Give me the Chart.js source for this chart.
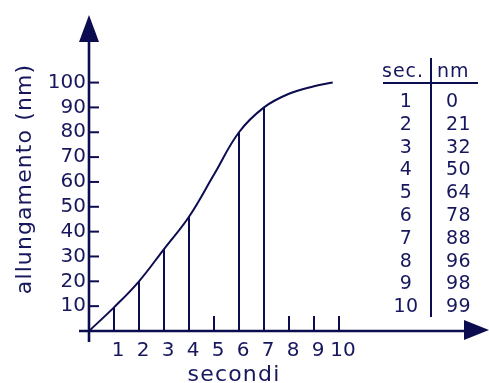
<!DOCTYPE html>
<html>
<head>
<meta charset="utf-8">
<script src="https://cdn.jsdelivr.net/npm/chart.js@4.4.1/dist/chart.umd.min.js"></script>
<style>
  html, body { margin: 0; padding: 0; background: #fff; }
  #wrap { width: 489px; height: 383px; position: relative; }
</style>
</head>
<body>
<div id="wrap"><canvas id="myChart"></canvas></div>
<script>
// curve (seconds -> nm)
var secondi = [0, 1, 2, 3, 4, 5, 6, 7, 8, 9, 9.75];
var allungamento = [0, 9.5, 20, 33, 46, 63, 80, 90, 95.5, 98.5, 100];

var xTicks = [1, 2, 3, 4, 5, 6, 7, 8, 9, 10];
var yTicks = [10, 20, 30, 40, 50, 60, 70, 80, 90, 100];

// where vertical drop lines / short ticks stand on the x axis
var dropAt = [1, 2, 3, 4, 6, 7];
var shortTickAt = [5, 8, 9, 10];

// table on the right
var tableSec = [1, 2, 3, 4, 5, 6, 7, 8, 9, 10];
var tableNm = [0, 21, 32, 50, 64, 78, 88, 96, 98, 99];

var navy = '#0c0c50';
var ink = '#17175d';
var face = '"DejaVu Sans", sans-serif';

function curveAt(v) {
  return allungamento[secondi.indexOf(v)];
}

function line(ctx, x1, y1, x2, y2) {
  ctx.beginPath();
  ctx.moveTo(x1, y1);
  ctx.lineTo(x2, y2);
  ctx.stroke();
}

// axes with arrows, drop lines, titles and the little table
var diagram = {
  id: 'diagram',
  beforeDatasetsDraw: function (chart) {
    var ctx = chart.ctx;
    var xs = chart.scales.x, ys = chart.scales.y;
    var area = chart.chartArea;
    var x0 = xs.getPixelForValue(0), y0 = ys.getPixelForValue(0);

    ctx.save();
    ctx.strokeStyle = navy;
    ctx.fillStyle = navy;

    ctx.lineWidth = 2;
    dropAt.forEach(function (v) {
      var px = xs.getPixelForValue(v);
      line(ctx, px, y0, px, ys.getPixelForValue(curveAt(v)));
    });
    shortTickAt.forEach(function (v) {
      var px = xs.getPixelForValue(v);
      line(ctx, px, y0, px, ys.getPixelForValue(6));
    });
    yTicks.forEach(function (v) {
      var py = ys.getPixelForValue(v);
      line(ctx, x0, py, x0 + 10, py);
    });

    // axes
    ctx.lineWidth = 2.6;
    line(ctx, x0, y0 + 11, x0, area.top + 20);
    line(ctx, x0 - 10, y0, area.right - 20, y0);

    ctx.beginPath();
    ctx.moveTo(x0, area.top);
    ctx.lineTo(x0 + 10, area.top + 27);
    ctx.lineTo(x0 - 10, area.top + 27);
    ctx.closePath();
    ctx.fill();

    ctx.beginPath();
    ctx.moveTo(area.right, y0 - 1);
    ctx.lineTo(area.right - 25, y0 - 11);
    ctx.lineTo(area.right - 25, y0 + 9);
    ctx.closePath();
    ctx.fill();

    // axis titles
    ctx.fillStyle = ink;
    ctx.font = '22px ' + face;
    ctx.letterSpacing = '1.2px';
    ctx.textAlign = 'center';
    ctx.textBaseline = 'alphabetic';
    ctx.fillText('secondi', 234, 381);

    ctx.save();
    ctx.translate(31, 179);
    ctx.rotate(-Math.PI / 2);
    ctx.letterSpacing = '1.1px';
    ctx.fillText('allungamento (nm)', 0, 0);
    ctx.restore();

    // table
    ctx.font = '19px ' + face;
    ctx.letterSpacing = '1px';
    ctx.textAlign = 'left';
    ctx.fillText('sec.', 382, 77);
    ctx.fillText('nm', 437, 77);

    ctx.letterSpacing = '0.5px';
    ctx.textBaseline = 'middle';
    tableSec.forEach(function (s, i) {
      var py = 102 + i * 22.8;
      ctx.textAlign = 'center';
      ctx.fillText(String(s), 406, py);
      ctx.textAlign = 'left';
      ctx.fillText(String(tableNm[i]), 446, py);
    });

    ctx.lineWidth = 2;
    line(ctx, 383, 83, 478, 83);
    line(ctx, 431, 58, 431, 317);

    ctx.restore();
  }
};

var points = secondi.map(function (x, i) {
  return { x: x, y: allungamento[i] };
});

var chart = new Chart(document.getElementById('myChart'), {
  type: 'line',
  data: {
    datasets: [{
      data: points,
      borderColor: navy,
      borderWidth: 2,
      pointRadius: 0,
      fill: false,
      tension: 0.4
    }]
  },
  options: {
    responsive: true,
    maintainAspectRatio: false,
    animation: false,
    layout: { padding: { top: 13, right: 0, left: 0, bottom: 0 } },
    plugins: {
      legend: { display: false },
      tooltip: { enabled: false }
    },
    scales: {
      x: {
        type: 'linear',
        min: 0,
        max: 16,
        afterFit: function (s) { s.height = 52; },
        afterBuildTicks: function (s) {
          s.ticks = xTicks.map(function (v) { return { value: v }; });
        },
        grid: { display: false, drawTicks: false },
        border: { display: false },
        ticks: {
          color: ink,
          font: { family: face, size: 20 },
          padding: 8,
          labelOffset: 4,
          autoSkip: false,
          maxRotation: 0
        }
      },
      y: {
        type: 'linear',
        min: 0,
        max: 127.2,
        afterFit: function (s) { s.width = 89; },
        afterBuildTicks: function (s) {
          s.ticks = yTicks.map(function (v) { return { value: v }; });
        },
        grid: { display: false, drawTicks: false },
        border: { display: false },
        ticks: {
          color: ink,
          font: { family: face, size: 20 },
          padding: 3
        }
      }
    }
  },
  plugins: [diagram]
});
</script>
</body>
</html>
